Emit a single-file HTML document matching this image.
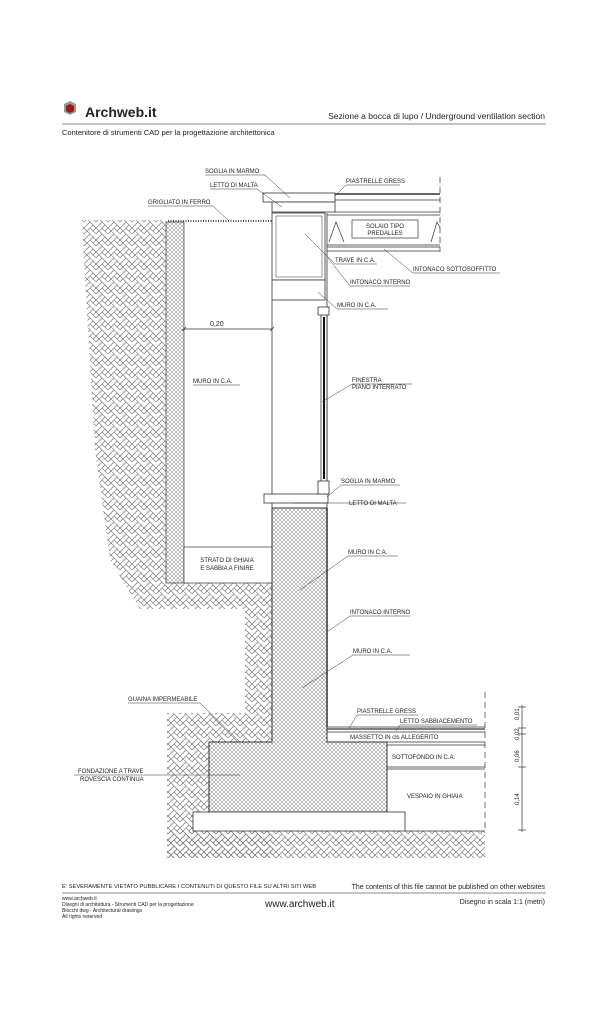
<!DOCTYPE html>
<html><head><meta charset="utf-8"><style>
html,body{margin:0;padding:0;background:#fff;width:607px;height:1024px;overflow:hidden}
svg{display:block}
text{font-family:"Liberation Sans",sans-serif;fill:#222}
.l{font-size:6px}
</style></head><body>
<svg width="607" height="1024" viewBox="0 0 607 1024" xmlns="http://www.w3.org/2000/svg">
<defs>
<pattern id="soil" width="12" height="12" patternUnits="userSpaceOnUse">
<path d="M0,6 L6,0 M0,12 L6,6 M3,3 L6,6 M6,0 L12,6 M6,6 L12,12 M9,9 L6,12 M0,0 L3,3 M9,3 L12,0" stroke="#7a7a7a" stroke-width="0.7" fill="none"/>
</pattern>
<pattern id="cross" width="4" height="4" patternUnits="userSpaceOnUse">
<path d="M0,0 L4,4 M4,0 L0,4" stroke="#777" stroke-width="0.5"/>
</pattern>
</defs>

<!-- header -->
<polygon points="64,104 70,101 76,104 76,112 70,115 64,112" fill="#999"/>
<polygon points="66,106 70,104 74,106 74,111 70,113 66,111" fill="#a01818"/>
<text x="85" y="117" style="font-size:14px;font-weight:bold">Archweb.it</text>
<text x="545" y="119" text-anchor="end" style="font-size:8.5px">Sezione a bocca di lupo  /  Underground ventilation section</text>
<line x1="62" y1="124" x2="546" y2="124" stroke="#888" stroke-width="1"/>
<text x="62" y="135" style="font-size:7.5px">Contenitore di strumenti CAD per la progettazione architettonica</text>

<!-- soil -->
<polygon points="82,220 166,220 166,583 272,583 272,713 245,713 245,609 140,609 110,560 95,450 88,330 84,260" fill="url(#soil)"/>
<rect x="167" y="713" width="106" height="145" fill="url(#soil)"/>
<rect x="167" y="831" width="318" height="27" fill="url(#soil)"/>
<!-- gravel column -->
<rect x="166" y="222" width="18" height="361" fill="url(#cross)" stroke="#333" stroke-width="0.7"/>
<rect x="184" y="547" width="88" height="36" fill="#fff" stroke="#333" stroke-width="0.7"/>
<!-- wall & footing -->
<polygon points="272,508 327,508 327,742 387,742 387,812 209,812 209,742 272,742" fill="#fff"/>
<polygon points="272,508 327,508 327,742 387,742 387,812 209,812 209,742 272,742" fill="url(#cross)" stroke="#333" stroke-width="1"/>
<rect x="193" y="812" width="212" height="19" fill="#fff" stroke="#333" stroke-width="0.8"/>
<line x1="327" y1="508" x2="327" y2="727" stroke="#333" stroke-width="1.5"/>
<!-- floor layers -->
<g stroke="#333" stroke-width="0.7" fill="none">
<line x1="327" y1="727" x2="485" y2="727"/><line x1="327" y1="729" x2="485" y2="729" stroke-width="1.2"/>
<line x1="327" y1="732" x2="485" y2="732"/>
<line x1="387" y1="742" x2="485" y2="742"/><line x1="387" y1="745" x2="485" y2="745"/>
<line x1="387" y1="767" x2="485" y2="767"/><line x1="387" y1="769" x2="485" y2="769"/>
<line x1="405" y1="831" x2="485" y2="831"/>
<line x1="485" y1="692" x2="485" y2="831" stroke-dasharray="6,4"/>
<line x1="522" y1="705" x2="522" y2="832"/>
<line x1="518" y1="707" x2="526" y2="707"/><line x1="518" y1="728" x2="526" y2="728"/><line x1="518" y1="734" x2="526" y2="734"/><line x1="518" y1="767" x2="526" y2="767"/><line x1="518" y1="830" x2="526" y2="830"/>
</g>
<g style="font-size:6px">
<text transform="translate(519,720) rotate(-90)">0,01</text>
<text transform="translate(519,740) rotate(-90)">0,02</text>
<text transform="translate(519,762) rotate(-90)">0,06</text>
<text transform="translate(519,805) rotate(-90)">0,14</text>
</g>

<!-- upper wall -->
<g stroke="#333" stroke-width="0.8" fill="#fff">
<rect x="272" y="213" width="53" height="67"/>
<rect x="276" y="216" width="46" height="61" fill="none" stroke-width="0.5"/>
<rect x="272" y="280" width="53" height="20"/>
<line x1="272" y1="300" x2="272" y2="494"/>
<line x1="327" y1="213" x2="327" y2="494"/>
<rect x="263" y="193" width="72" height="9"/>
<rect x="272" y="202" width="63" height="10"/>
<rect x="264" y="494" width="64" height="9"/>
<rect x="318" y="307" width="11" height="8"/>
<rect x="318" y="481" width="11" height="13"/>
<line x1="321" y1="315" x2="321" y2="481"/>
<line x1="327" y1="315" x2="327" y2="481"/>
<line x1="324" y1="317" x2="324" y2="479" stroke-width="2" stroke="#111"/>
<line x1="272" y1="503" x2="272" y2="508"/><line x1="327" y1="503" x2="327" y2="508"/>
</g>
<!-- grigliato -->
<line x1="168" y1="221" x2="272" y2="221" stroke="#333" stroke-width="1.8" stroke-dasharray="1,1.5"/>
<!-- slab -->
<g stroke="#333" stroke-width="0.7" fill="none">
<line x1="335" y1="194" x2="440" y2="194" stroke-width="1.4"/>
<line x1="335" y1="200" x2="440" y2="200"/>
<line x1="335" y1="212" x2="440" y2="212"/>
<line x1="327" y1="215" x2="440" y2="215"/>
<line x1="327" y1="245" x2="440" y2="245"/>
<line x1="327" y1="247" x2="440" y2="247"/>
<line x1="327" y1="251" x2="440" y2="251"/>
<rect x="352" y="220" width="66" height="18"/>
<path d="M329,242 L336,222 L344,242 M431,242 L437,222 L440,228"/>
<line x1="440" y1="177" x2="440" y2="252" stroke-dasharray="6,4"/>
<line x1="184" y1="329" x2="272" y2="329"/>
<line x1="182" y1="331" x2="186" y2="327"/><line x1="270" y1="331" x2="274" y2="327"/>
</g>

<!-- leaders -->
<g stroke="#333" stroke-width="0.5" fill="none">
<path d="M205,175 L265,175 L290,198"/>
<path d="M210,189 L257,189 L282,207"/>
<path d="M148,206 L213,206 L229,221"/>
<path d="M346,185 L400,185 M346,185 L335,196"/>
<path d="M335,264 L377,264 M335,264 L305,234"/>
<path d="M413,273 L500,273 M413,273 L384,249"/>
<path d="M350,286 L410,286 M350,286 L328,258"/>
<path d="M337,309 L388,309 M337,309 L318,292"/>
<path d="M352,384 L412,384 M352,384 L322,402"/>
<path d="M341,485 L400,485 M341,485 L327,497"/>
<path d="M293,503 L406,503"/>
<path d="M193,385 L240,385"/>
<path d="M348,556 L398,556 M348,556 L300,590"/>
<path d="M350,616 L410,616 M350,616 L327,632"/>
<path d="M353,655 L410,655 M353,655 L302,688"/>
<path d="M128,703 L200,703 L240,742"/>
<path d="M357,715 L418,715 M357,715 L349,728"/>
<path d="M400,725 L477,725 M400,725 L396,731"/>
<path d="M74,775 L240,775"/>
</g>

<g class="l">
<text x="205" y="173" class="l">SOGLIA IN MARMO</text>
<text x="210" y="187" class="l">LETTO DI MALTA</text>
<text x="148" y="204" class="l">GRIGLIATO IN FERRO</text>
<text x="346" y="183" class="l">PIASTRELLE GRESS</text>
<text x="385" y="228" text-anchor="middle" class="l">SOLAIO TIPO</text>
<text x="385" y="235" text-anchor="middle" class="l">PREDALLES</text>
<text x="335" y="262" class="l">TRAVE IN C.A.</text>
<text x="413" y="271" class="l">INTONACO SOTTOSOFFITTO</text>
<text x="350" y="284" class="l">INTONACO INTERNO</text>
<text x="337" y="307" class="l">MURO IN C.A.</text>
<text x="210" y="326" class="l" style="font-size:7px">0,20</text>
<text x="193" y="383" class="l">MURO IN C.A.</text>
<text x="352" y="382" class="l">FINESTRA</text>
<text x="352" y="389" class="l">PIANO INTERRATO</text>
<text x="341" y="483" class="l">SOGLIA IN MARMO</text>
<text x="349" y="505" class="l">LETTO DI MALTA</text>
<text x="227" y="562" text-anchor="middle" class="l">STRATO DI GHIAIA</text>
<text x="227" y="570" text-anchor="middle" class="l">E SABBIA A FINIRE</text>
<text x="348" y="554" class="l">MURO IN C.A.</text>
<text x="350" y="614" class="l">INTONACO INTERNO</text>
<text x="353" y="653" class="l">MURO IN C.A.</text>
<text x="128" y="701" class="l">GUAINA IMPERMEABILE</text>
<text x="357" y="713" class="l">PIASTRELLE GRESS</text>
<text x="400" y="723" class="l">LETTO SABBIACEMENTO</text>
<text x="350" y="739" class="l">MASSETTO IN cls ALLEGERITO</text>
<text x="392" y="759" class="l">SOTTOFONDO IN C.A.</text>
<text x="407" y="798" class="l">VESPAIO IN GHIAIA</text>
<text x="78" y="773" class="l">FONDAZIONE A TRAVE</text>
<text x="80" y="781" class="l">ROVESCIA CONTINUA</text>
</g>

<!-- footer -->
<text x="62" y="888" style="font-size:5.8px">E' SEVERAMENTE VIETATO PUBBLICARE I CONTENUTI DI QUESTO FILE SU ALTRI SITI WEB</text>
<text x="545" y="889" text-anchor="end" style="font-size:7px">The contents of this file cannot be published on other websites</text>
<line x1="62" y1="893" x2="546" y2="893" stroke="#888" stroke-width="1"/>
<g style="font-size:5px">
<text x="62" y="900">www.archweb.it</text>
<text x="62" y="906">Disegni di architettura - Strumenti CAD  per la progettazione</text>
<text x="62" y="912">Blocchi dwg - Architectural drawings</text>
<text x="62" y="918">All rights reserved</text>
</g>
<text x="265" y="907" style="font-size:10px">www.archweb.it</text>
<text x="545" y="904" text-anchor="end" style="font-size:7px">Disegno in scala 1:1 (metri)</text>
</svg>
</body></html>
